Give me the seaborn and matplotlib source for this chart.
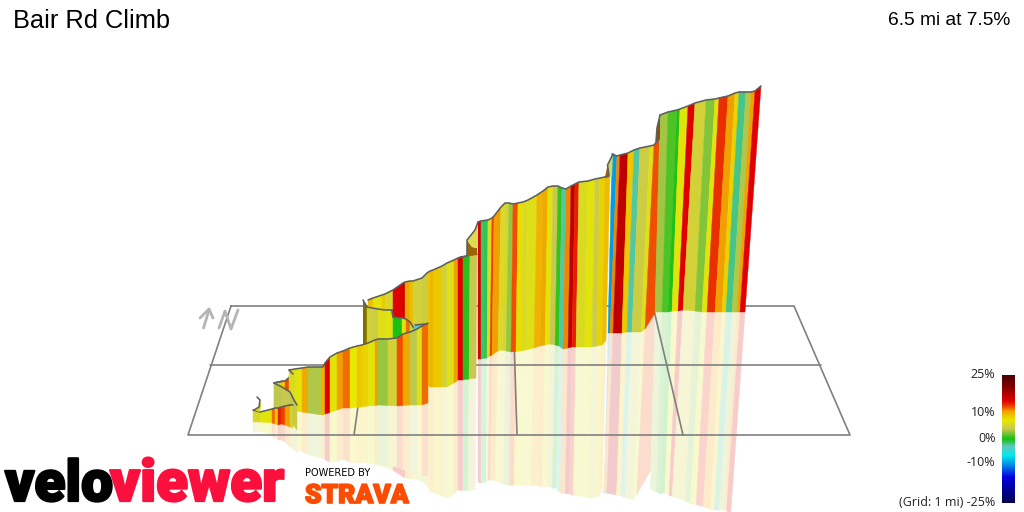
import numpy as np
import matplotlib
matplotlib.use("Agg")
import matplotlib.pyplot as plt
import matplotlib.patheffects as pe
from matplotlib.collections import PolyCollection
from matplotlib.colors import LinearSegmentedColormap, Normalize
import pandas as pd
import seaborn as sns

TITLE = "Bair Rd Climb"
SUBTITLE = "6.5 mi at 7.5%"
SCALE_LABELS = ["25%", "10%", "0%", "-10%", "(Grid: 1 mi) -25%"]
SCALE_VALUES = [25, 10, 0, -10, -25]

# gradient colour scale
scale_stops = [-25, -15, -10, -6.5, -3, 0, 4, 7.5, 11, 12.5, 15, 17, 20, 25]
scale_colors = ["#000050", "#0000e0", "#0090e8", "#00e8e8", "#60c8c0", "#10c010", "#c8c850",
                "#e8e800", "#f0a000", "#f05000", "#e00000", "#c00000", "#8a0000", "#4a0000"]

# Ribbon pieces in screen space, back to front: edges of the strips and the % gradient of each strip
l3a_top_x = [274, 278, 285, 293]
l3a_top_y = [383, 382, 381, 374]
l3a_bot_x = [274, 278, 285, 293]
l3a_bot_y = [410, 410, 410, 410]
l3a_grade = [6, 8.5, 12.5]

t1_top_x = [368, 373, 382, 385, 393, 403, 405, 410, 413, 422, 427, 430, 433, 442, 447, 454, 458, 463, 470, 477]
t1_top_y = [300, 298, 295, 294, 290, 283, 282, 281, 281, 278, 273, 271, 270, 266, 263, 260, 258, 257, 255, 254]
t1_bot_x = [368, 373, 382, 385, 393, 403, 405, 410, 413, 422, 427, 430, 433, 442, 447, 454, 458, 463, 469, 476]
t1_bot_y = [385, 385, 385, 385, 385, 385, 385, 385, 385, 385, 385, 387, 387, 387, 387, 383, 380, 380, 379, 378]
t1_grade = [9.5, 7, 9, 5.5, 15, 17, 10.5, 9.5, 5, 4.5, 9, 10, 9, 5, 6.5, 11, 15, 0.5, 4]

t2_top_x = [478, 481, 484, 488, 492, 494, 501, 505, 509, 513, 518, 523, 528, 537, 543, 548, 553, 558, 562, 566, 571, 575, 579, 588, 595, 600, 605, 610]
t2_top_y = [222, 221, 220.5, 220, 218, 216, 207, 203, 203, 204, 203, 202, 200, 195, 191, 187, 186, 186, 188, 189, 186, 184, 182, 181, 179, 178, 177, 176]
t2_bot_x = [478, 481, 483.5, 487, 490, 492, 498, 502, 506, 511, 516, 521, 526, 534, 540, 545, 550, 555, 559, 563, 568, 572, 576, 585, 592, 597, 602, 606]
t2_bot_y = [359, 359, 358.5, 358, 356, 355, 351, 350, 351, 352, 351.5, 351, 350, 348, 346, 345, 344, 345, 346, 349, 348, 347, 347, 347, 347, 346, 345, 340]
t2_grade = [15, -1.5, -1.2, 6, 13, 11, 6, 5.5, 3, 12.5, 8, 6, 6.5, 10, 10.5, 7, 4, 0.8, -2.5, 11.5, 17, 14, 6, 7, 4.5, 8.5, 9.5]

t3_top_x = [612, 617, 620, 628, 634, 640, 650, 654, 660]
t3_top_y = [154, 156, 155, 153, 150, 148, 146, 145, 138]
t3_bot_x = [608, 610, 613, 622, 627, 632, 641, 645, 655]
t3_bot_y = [333, 333, 333, 333, 332, 332, 332, 329, 313]
t3_grade = [-9.5, 11.5, 17, 9, -2.5, 4.5, 6.5, 12.5]

t4_top_x = [660, 668, 677, 680, 688, 695, 706, 715, 719, 728, 735, 739, 746, 751, 755, 761]
t4_top_y = [115, 112, 110, 109, 106, 103, 100, 99, 98, 96, 93, 92, 92, 92, 91, 86]
t4_bot_x = [655, 662, 668, 672, 678, 683, 695, 702, 707, 715, 722, 726, 732, 737, 740, 745]
t4_bot_y = [312, 312, 312, 311, 311, 310, 311, 312, 312, 312, 312, 312, 312, 312, 312, 312]
t4_grade = [3.2, 1.3, 0.3, 7, 15, 5, 2.5, 7, 13.5, 11, 8.5, -2, 3.5, 11, 15]

mid_top_x = [367, 372, 378, 385, 392, 393, 402, 406, 410, 415]
mid_top_y = [307, 308, 309, 310, 310, 317, 318, 319, 322, 330]
mid_bot_x = [367, 372, 378, 385, 392, 393, 402, 406, 410, 415]
mid_bot_y = [346, 346, 346, 346, 346, 346, 346, 346, 346, 346]
mid_grade = [5, 4.5, 6.5, 6.8, 6.5, 0.2, 7, 12, 5]

l3b_top_x = [289, 295, 302, 308, 322, 323]
l3b_top_y = [370, 369, 368, 367, 367, 367]
l3b_bot_x = [289, 295, 302, 308, 322, 323]
l3b_bot_y = [410, 411, 412, 413, 415, 415]
l3b_grade = [6, 7, 10.5, 3.5, 10]

front_top_x = [323, 325, 330, 337, 343, 350, 357, 362, 368, 375, 378, 388, 397, 403, 410, 417, 422, 428]
front_top_y = [367, 363, 357, 353, 351, 348, 346, 345, 343, 340, 339, 339, 338, 334, 332, 329, 326, 323]
front_bot_x = [323, 325, 330, 337, 343, 350, 357, 362, 368, 375, 378, 388, 397, 403, 410, 417, 422, 428]
front_bot_y = [415, 414, 412.5, 410, 408, 408, 407.5, 407, 406, 405.5, 405, 405.5, 406, 405.5, 405, 405, 405, 403]
front_grade = [10, 15, 7, 11, 12, 7.5, 9, 8.5, 7, 11, 3, 5, 12.5, 10.5, 3.8, 6.5, 12]

l2_top_x = [274, 282, 290, 294, 297]
l2_top_y = [383, 387, 392, 400, 405]
l2_bot_x = [274, 282, 290, 294, 297]
l2_bot_y = [410, 414, 420, 426, 430]
l2_grade = [3.8, 4, 3.8, 4.2]

l1_top_x = [253, 260, 272, 275, 278, 281, 285, 290, 293]
l1_top_y = [410, 412, 409, 408, 408, 407, 406, 405, 405]
l1_bot_x = [253, 260, 272, 275, 278, 281, 285, 290, 293]
l1_bot_y = [422, 422, 423, 424, 425, 424, 425, 427, 428]
l1_grade = [5.5, 7, 12, 9, 14, 13, 11, 5]

ribbons = [
    (l3a_top_x, l3a_top_y, l3a_bot_x, l3a_bot_y, l3a_grade),
    (t1_top_x, t1_top_y, t1_bot_x, t1_bot_y, t1_grade),
    (t2_top_x, t2_top_y, t2_bot_x, t2_bot_y, t2_grade),
    (t3_top_x, t3_top_y, t3_bot_x, t3_bot_y, t3_grade),
    (t4_top_x, t4_top_y, t4_bot_x, t4_bot_y, t4_grade),
    (mid_top_x, mid_top_y, mid_bot_x, mid_bot_y, mid_grade),
    (l3b_top_x, l3b_top_y, l3b_bot_x, l3b_bot_y, l3b_grade),
    (l2_top_x, l2_top_y, l2_bot_x, l2_bot_y, l2_grade),
    (front_top_x, front_top_y, front_bot_x, front_bot_y, front_grade),
    (l1_top_x, l1_top_y, l1_bot_x, l1_bot_y, l1_grade),
]

# back sides of the ribbon where the road turns: outline x, y, colour
turns = [
    ([467, 467, 477, 477, 472], [240, 256, 255, 248, 247], "#9a6408"),
    ([467, 475, 478, 478, 472], [240, 230, 222, 248, 247], "#dcdc50"),
    ([605, 607.5, 612, 608], [177, 165, 176, 177], "#9a6408"),
    ([607.5, 613, 612, 609], [165, 154, 177, 177], "#c8d860"),
    ([656, 657, 660, 660], [142, 128, 115, 139], "#8a5008"),
    ([363, 367, 367, 363], [300, 307, 346, 346], "#807000"),
    ([413, 415, 425, 427, 423, 418], [329, 325, 324, 324, 327, 330], "#60c8c0"),
    ([257, 260, 259, 254, 260, 261.5], [397, 400, 407, 410, 412, 404], "#d8d820"),
]

# outlines at the turns
joint_lines = [
    ([460, 467, 467, 475, 478], [257, 256, 240, 230, 222]),
    ([605, 609, 607.5, 613], [177, 176, 165, 154]),
    ([656, 657, 660], [142, 128, 115]),
    ([363, 367], [300, 307]),
    ([392, 393], [310, 317]),
    ([274, 283], [383, 381]),
    ([293, 289], [374, 370]),
    ([415, 425, 427], [325, 324, 324]),
    ([257, 260, 259, 254], [397, 400, 407, 410]),
]

# floor grid in screen space
grid_outer_x = [231, 794, 850, 188, 231]
grid_outer_y = [306, 306, 435, 435, 306]
grid_mid_x = [210, 821]
grid_mid_y = [365, 365]
grid_bottom_ticks = [354, 517, 683]
grid_top_ticks = [372, 513, 653]
north_arrow_x = [[203.5, 209], [200, 209, 213]]
north_arrow_y = [[328, 310], [318, 309, 318]]
north_n_x = [219, 225, 231, 238]
north_n_y = [328, 311, 329, 310]

sns.set_theme(style="white")
plt.rcParams["font.family"] = ["Liberation Sans", "DejaVu Sans"]

cmap = LinearSegmentedColormap.from_list(
    "grade", [((v + 25) / 50, c) for v, c in zip(scale_stops, scale_colors)], N=512)
norm = Normalize(-25, 25)

fig = plt.figure(figsize=(10.24, 5.12), dpi=100, facecolor="white")
ax = fig.add_axes([0, 0, 1, 1])
ax.set_xlim(0, 1024)
ax.set_ylim(512, 0)
ax.axis("off")


def line(x, y, color, lw, z):
    df = pd.DataFrame({"x": x, "y": y, "o": range(len(x))})
    sns.lineplot(data=df, x="x", y="y", estimator=None, sort=False, color=color, linewidth=lw,
                 zorder=z, ax=ax, legend=False, solid_capstyle="round")


# reflection on the floor, as pale opaque strips
z = 1.0
fade = 0.2
squash = 0.9
for tx, ty, bx, by, g in ribbons:
    tx, ty, bx, by = map(np.array, (tx, ty, bx, by))
    rx = bx - (tx - bx) * squash
    ry = by + (by - ty) * squash
    polys = [[(bx[i], by[i]), (bx[i + 1], by[i + 1]), (rx[i + 1], ry[i + 1]), (rx[i], ry[i])]
             for i in range(len(g))]
    cols = fade * cmap(norm(np.array(g))) + (1 - fade)
    cols[:, 3] = 1
    ax.add_collection(PolyCollection(polys, facecolors=cols, edgecolors=cols, linewidths=0.3, zorder=z))
    z += 0.01

# floor grid
gc = "#808080"
line(grid_outer_x, grid_outer_y, gc, 1.2, 2)
line(grid_mid_x, grid_mid_y, gc, 1.2, 2)
for b, t in zip(grid_bottom_ticks, grid_top_ticks):
    line([b, t], [435, 306], gc, 1.2, 2)
for nx, ny in zip(north_arrow_x, north_arrow_y):
    line(nx, ny, "#b4b4b4", 2, 2)
line(north_n_x, north_n_y, "#b4b4b4", 2, 2)

# the ribbon itself
outline = "#5f5f5f"
z = 3.0
for tx, ty, bx, by, g in ribbons:
    if tx is front_top_x:
        ax.fill(turns[6][0], turns[6][1], color=turns[6][2], lw=0, zorder=z)
    polys = [[(tx[i], ty[i]), (tx[i + 1], ty[i + 1]), (bx[i + 1], by[i + 1]), (bx[i], by[i])]
             for i in range(len(g))]
    cols = cmap(norm(np.array(g)))
    ax.add_collection(PolyCollection(polys, facecolors=cols, edgecolors=cols, linewidths=0.3, zorder=z))
    line(tx, ty, outline, 1.15, z + 0.005)
    z += 0.01
for i, (fx, fy, c) in enumerate(turns):
    if i != 6:
        ax.fill(fx, fy, color=c, lw=0, zorder=2.9 if i == 5 else 3.2)
for jx, jy in joint_lines:
    line(jx, jy, outline, 1.15, 3.3)
ax.set_xlim(0, 1024)
ax.set_ylim(512, 0)
ax.set_xlabel("")
ax.set_ylabel("")

# titles
ax.text(13, 21.5, TITLE, fontsize=18.3, color="black", ha="left", va="center", zorder=5)
ax.text(1010, 20.5, SUBTITLE, fontsize=13.8, color="black", ha="right", va="center", zorder=5)

# colour scale
cax = fig.add_axes([1002 / 1024, 1 - 503 / 512, 13 / 1024, 128 / 512])
sns.heatmap(np.linspace(25, -25, 128)[:, None], cmap=cmap, vmin=-25, vmax=25, cbar=False,
            xticklabels=False, yticklabels=False, ax=cax)
label_y = [375, 413, 438, 463, 503]
for v, s, y in zip(SCALE_VALUES, SCALE_LABELS, label_y):
    ax.text(995.5, y, s, fontsize=9, family="Open Sans", color="#222222", ha="right", va="center", zorder=5)

# logos
ax.text(5, 501, "velo", fontsize=41, family="Roboto", weight="black", color="black", ha="left",
        va="baseline", zorder=5, path_effects=[pe.withStroke(linewidth=1.6, foreground="#000000")])
ax.text(110, 501, "viewer", fontsize=42, family="Roboto", weight="black", color="#fb0f3c", ha="left",
        va="baseline", zorder=5, path_effects=[pe.withStroke(linewidth=1.6, foreground="#fb0f3c")])
ax.text(305, 473.5, "POWERED BY", fontsize=7, family="DejaVu Sans", color="black", ha="left",
        va="center", zorder=5)
ax.text(305, 503, "STRAVA", fontsize=19, family="Roboto", weight="black", color="#fc4c02", ha="left",
        va="baseline", zorder=5, path_effects=[pe.withStroke(linewidth=1.2, foreground="#fc4c02")])

fig.savefig("out.png", dpi=100)
